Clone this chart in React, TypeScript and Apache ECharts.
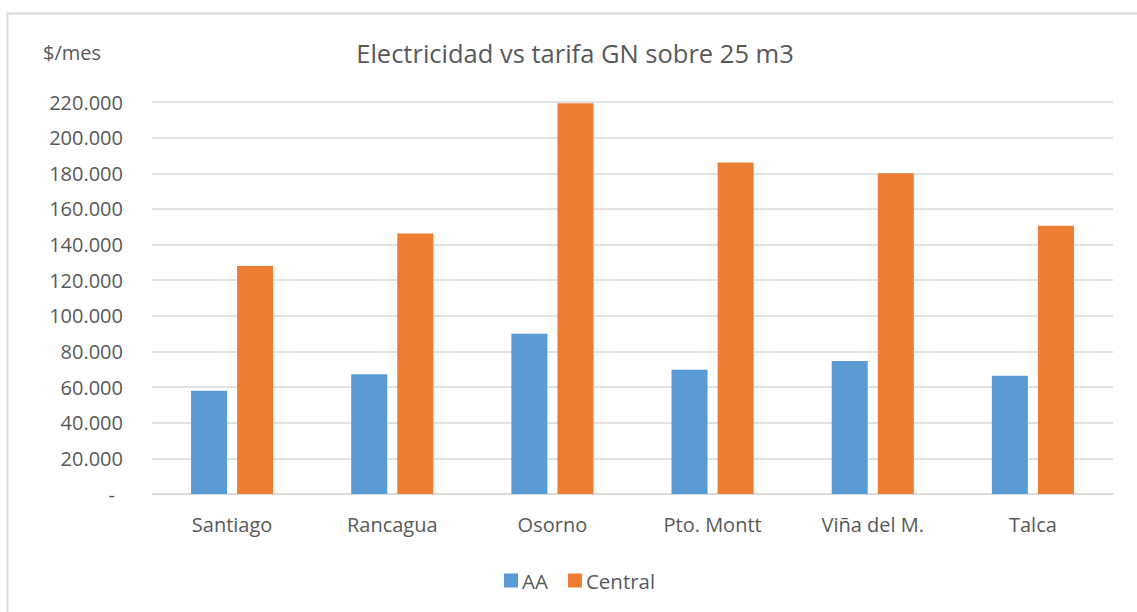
import React, { useEffect, useRef } from "react";
import * as echarts from "echarts";

const categories = ["Santiago", "Rancagua", "Osorno", "Pto. Montt", "Viña del M.", "Talca"];
const aaValues = [58000, 67200, 89900, 69800, 74700, 66300];
const centralValues = [127900, 146200, 219300, 186000, 180000, 150600];
const yTicks = { min: 0, max: 220000, interval: 20000 };
const titleText = "Electricidad vs tarifa GN sobre 25 m3";
const unitText = "$/mes";

const FONT = "'Open Sans', 'Noto Sans', sans-serif";
const TXT = "#595959";
const GRID = "#d9d9d9";

function fmt(v: number): string {
  if (v === 0) return "{d|-}";
  const s = Math.round(v).toString();
  return s.replace(/\B(?=(\d{3})+(?!\d))/g, ".");
}

export default function App() {
  const ref = useRef<HTMLDivElement>(null);
  useEffect(() => {
    if (!ref.current) return;
    const chart = echarts.init(ref.current, null, { renderer: "svg" });
    chart.setOption({
      animation: false,
      backgroundColor: "#ffffff",
      textStyle: { fontFamily: FONT, color: TXT },
      graphic: [
        {
          type: "rect",
          shape: { x: 7.5, y: 13.5, width: 1160, height: 640 },
          style: { fill: "none", stroke: GRID, lineWidth: 2 },
          silent: true,
        },
        {
          type: "text",
          x: 43,
          y: 52,
          style: {
            text: unitText,
            fontFamily: FONT,
            fontSize: 20,
            fill: TXT,
            verticalAlign: "middle",
          },
        },
        {
          type: "text",
          x: 575,
          y: 53,
          style: {
            text: titleText,
            fontFamily: FONT,
            fontSize: 25.5,
            fill: TXT,
            align: "center",
            verticalAlign: "middle",
          },
        },
      ],
      legend: {
        data: ["AA", "Central"],
        left: 499,
        top: 565,
        icon: "rect",
        itemWidth: 14,
        itemHeight: 14,
        itemGap: 20,
        textStyle: { fontFamily: FONT, fontSize: 20.5, color: TXT, padding: [0, 0, 0, -1] },
      },
      grid: { left: 152, right: 24, top: 102, bottom: 118, containLabel: false },
      xAxis: {
        type: "category",
        data: categories,
        axisLine: { show: true, lineStyle: { color: GRID, width: 1.5 } },
        axisTick: { show: false },
        axisLabel: { fontFamily: FONT, fontSize: 20, color: TXT, margin: 20 },
      },
      yAxis: {
        type: "value",
        min: yTicks.min,
        max: yTicks.max,
        interval: yTicks.interval,
        axisLine: { show: false },
        axisTick: { show: false },
        splitLine: { lineStyle: { color: GRID, width: 1.5 } },
        axisLabel: {
          fontFamily: FONT,
          fontSize: 20,
          color: TXT,
          margin: 29,
          formatter: (v: number) => fmt(v),
          rich: { d: { fontFamily: FONT, fontSize: 20, color: TXT, padding: [0, 8, 0, 0] } },
        },
      },
      series: [
        {
          name: "AA",
          type: "bar",
          data: aaValues,
          itemStyle: { color: "#5B9BD5" },
          barGap: "28%",
          barCategoryGap: "48.75%",
        },
        {
          name: "Central",
          type: "bar",
          data: centralValues,
          itemStyle: { color: "#ED7D31" },
          barGap: "28%",
          barCategoryGap: "48.75%",
        },
      ],
    });
    return () => chart.dispose();
  }, []);
  return (
    <div
      ref={ref}
      style={{ position: "absolute", left: 0, top: 0, width: 1137, height: 612 }}
    />
  );
}
